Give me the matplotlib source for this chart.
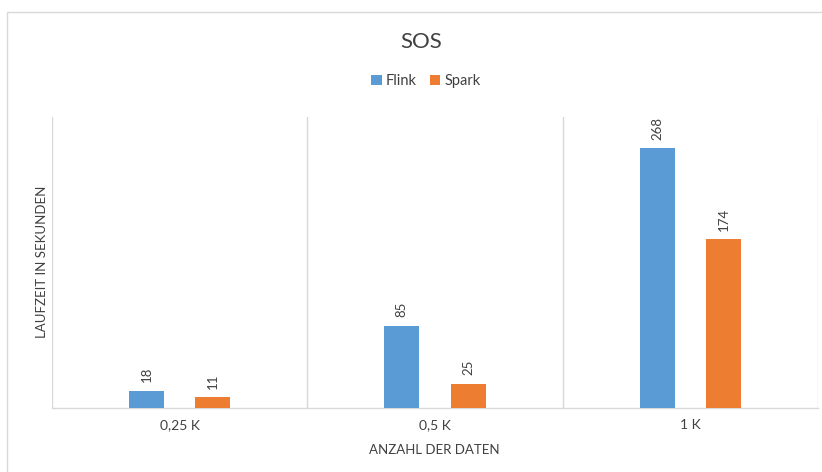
import matplotlib
matplotlib.use("Agg")
import matplotlib.pyplot as plt
import numpy as np
from matplotlib.patches import Rectangle

categories = ["0,25 K", "0,5 K", "1 K"]
flink = [18, 85, 268]
spark = [11, 25, 174]
series_names = ["Flink", "Spark"]
title = "SOS"
xlabel = "ANZAHL DER DATEN"
ylabel = "LAUFZEIT IN SEKUNDEN"

plt.rcParams['font.family'] = ['Lato', 'DejaVu Sans']
TXT = "#404040"
GRID = "#D9D9D9"
BLUE = "#5B9BD5"
ORANGE = "#ED7D31"

fig = plt.figure(figsize=(8.22, 4.72), dpi=100)
fig.patches.append(Rectangle((7/822, -0.05), 1.0, 0.05 + (472-12)/472,
                             transform=fig.transFigure, fill=False,
                             edgecolor=GRID, linewidth=1.0))
ax = fig.add_axes([52/822, 64/472, 766/822, 291/472])

x = np.arange(len(categories))
w = 0.137
off = 0.13
b1 = ax.bar(x - off, flink, w, color=BLUE, label=series_names[0], zorder=3)
b2 = ax.bar(x + off, spark, w, color=ORANGE, label=series_names[1], zorder=3)
for bars in (b1, b2):
    for r in bars:
        ax.annotate(f"{int(r.get_height())}", (r.get_x() + r.get_width()/2, r.get_height()),
                    xytext=(0, 6), textcoords="offset points", rotation=90,
                    ha="center", va="bottom", fontsize=9.5, color=TXT)

ax.set_xlim(-0.5, len(categories) - 0.5)
ax.set_ylim(0, 300)
ax.set_xticks(x)
ax.set_xticklabels(categories, fontsize=10, color=TXT)
ax.set_xticks(np.arange(-0.5, len(categories)), minor=True)
ax.tick_params(axis='x', which='both', length=0, pad=8)
ax.grid(axis='x', which='minor', color=GRID, linewidth=1.0, zorder=0)
ax.set_yticks([])
for s in ["top", "left", "right"]:
    ax.spines[s].set_visible(False)
ax.spines["bottom"].set_color(GRID)
ax.spines["bottom"].set_linewidth(1.0)

cx = 421/822
fig.text(cx, 1 - 42/472, title, ha="center", va="center",
         fontsize=16, color=TXT)
fig.text(434/822, 1 - 450/472, xlabel, ha="center", va="center",
         fontsize=9.5, color=TXT)
fig.text(42/822, 1 - 262/472, ylabel, ha="center", va="center", rotation=90,
         fontsize=9.5, color=TXT)

leg = fig.legend(handles=[b1, b2], labels=series_names, loc="center",
                 bbox_to_anchor=(426/822, 1 - 81/472), ncol=2,
                 frameon=False, fontsize=10.5, handlelength=0.7, handleheight=0.7,
                 handletextpad=0.3, columnspacing=0.9)
for tx in leg.get_texts():
    tx.set_color(TXT)

fig.savefig("out.png", dpi=100)
